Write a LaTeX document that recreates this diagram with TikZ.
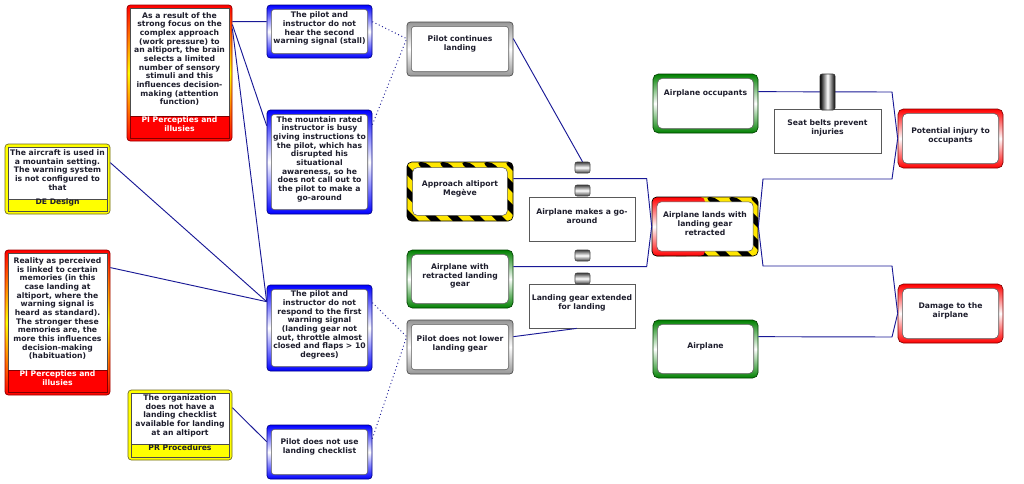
\documentclass[tikz,border=0pt]{standalone}
\usepackage{fontspec}
\setmainfont{DejaVu Sans}
\usetikzlibrary{fit,calc}
\definecolor{navy}{RGB}{25,25,150}
\definecolor{txtc}{RGB}{30,30,45}
\definecolor{evblue}{RGB}{0,0,255}
\definecolor{evgreen}{RGB}{0,128,0}
\definecolor{evred}{RGB}{255,0,0}
\definecolor{evgrey}{RGB}{150,150,150}
\definecolor{hzyel}{RGB}{255,230,0}
\definecolor{cyel}{RGB}{255,255,0}
\tikzset{
  txt/.style={font=\fontsize{5.75}{6.5}\selectfont\bfseries, text=txtc, align=center},
  whitecore/.style={path picture={\fill[white,draw=gray!70!black,line width=0.4pt]
     ([shift={(#1,-#1)}]path picture bounding box.north west) rectangle
     ([shift={(-#1,#1)}]path picture bounding box.south east);}},
  evbox/.style={inner sep=0pt, draw=#1!50!black, line width=0.5pt,
     top color=#1, bottom color=#1, middle color=white, whitecore=3.2pt, txt},
  bluebox/.style={evbox=evblue, rounded corners=2.5pt},
  greenbox/.style={evbox=evgreen, rounded corners=4pt},
  redbox/.style={evbox=evred, rounded corners=4pt},
  greybox/.style={evbox=evgrey, rounded corners=2.5pt},
  plainbox/.style={inner sep=0pt, draw=gray!70!black, fill=white, line width=0.6pt, txt},
  hazard/.style={inner sep=0pt, rounded corners=3.5pt, draw=black, line width=0.5pt, fill=hzyel,
     path picture={
       \foreach \k in {-14,...,14}{\fill[black] ([xshift={\k*16.5pt}]path picture bounding box.north) -- ++(7.5pt,0) -- ++(50pt,-50pt) -- ++(-7.5pt,0) -- cycle;}
       \fill[white,draw=gray!70!black,line width=0.4pt]
         ([shift={(4.2pt,-4.2pt)}]path picture bounding box.north west) rectangle
         ([shift={(-4.2pt,4.2pt)}]path picture bounding box.south east);
     }, txt},
  halfhazard/.style={inner sep=0pt, rounded corners=3.5pt, draw=black, line width=0.5pt, fill=hzyel,
     path picture={
       \foreach \k in {-14,...,14}{\fill[black] ([xshift={\k*16.5pt}]path picture bounding box.north) -- ++(7.5pt,0) -- ++(50pt,-50pt) -- ++(-7.5pt,0) -- cycle;}
       \shade[top color=evred, bottom color=evred, middle color=white]
         (path picture bounding box.north west) rectangle (path picture bounding box.south);
       \fill[white,draw=gray!70!black,line width=0.4pt]
         ([shift={(3.6pt,-3.6pt)}]path picture bounding box.north west) rectangle
         ([shift={(-3.6pt,3.6pt)}]path picture bounding box.south east);
     }, txt},
  pibox/.style={inner sep=0pt, rounded corners=2.5pt, draw=evred!60!black, line width=0.6pt,
     top color=evred, bottom color=evred, middle color=yellow},
  yelbox/.style={inner sep=0pt, rounded corners=2.5pt, draw=olive!70!black, line width=0.5pt, fill=cyel},
  corebox/.style={inner sep=0pt, fill=white, draw=gray!60!black, line width=0.4pt, txt},
  pilabel/.style={inner sep=0pt, fill=evred, draw=evred!50!black, line width=0.4pt, txt, text=white},
  yellabel/.style={inner sep=0pt, fill=cyel, draw=gray!60!black, line width=0.4pt, txt},
  barrier/.style={inner sep=0pt, rounded corners=1.5pt, draw=black!75, line width=0.4pt,
     top color=black!75, bottom color=black!75, middle color=white},
  tallbar/.style={inner sep=0pt, rounded corners=1.5pt, draw=black!80, line width=0.4pt,
     left color=black, right color=black, middle color=white},
  conn/.style={draw=navy, line width=0.7pt},
  dconn/.style={conn, dotted},
}
\begin{document}
\begin{tikzpicture}[x=0.75pt,y=-0.75pt]
\fill[white] (0,0) rectangle (1024,483);
\useasboundingbox (0,0) rectangle (1024,483);

% ---- left causes
\node[pibox, fit={(127,5)(232,141)}] (pi1) {};
\node[corebox, fit={(130,8)(229,116)}] (pi1t) {As a result of the\\strong focus on the\\complex approach\\(work pressure) to\\an altiport, the brain\\selects a limited\\number of sensory\\stimuli and this\\influences decision-\\making (attention\\function)};
\node[pilabel, fit={(130,116)(229,138)}] (pi1l) {PI Percepties and\\illusies};

\node[yelbox, fit={(5,144)(110,214)}] (de) {};
\node[corebox, fit={(8,147)(107,199)}] (det) {The aircraft is used in\\a mountain setting.\\The warning system\\is not configured to\\that};
\node[yellabel, fit={(8,199)(107,211)}] (del) {DE Design};

\node[pibox, fit={(5,250)(110,395)}] (pi2) {};
\node[corebox, fit={(8,253)(107,370)}] (pi2t) {Reality as perceived\\is linked to certain\\memories (in this\\case landing at\\altiport, where the\\warning signal is\\heard as standard).\\The stronger these\\memories are, the\\more this influences\\decision-making\\(habituation)};
\node[pilabel, fit={(8,370)(107,392)}] (pi2l) {PI Percepties and\\illusies};

\node[yelbox, fit={(128,390)(232,460)}] (pr) {};
\node[corebox, fit={(131,393)(229,444)}] (prt) {The organization\\does not have a\\landing checklist\\available for landing\\at an altiport};
\node[yellabel, fit={(131,444)(229,457)}] (prl) {PR Procedures};

% ---- blue boxes
\node[bluebox, fit={(267,5)(372,58)}] (b1) {The pilot and\\instructor do not\\hear the second\\warning signal (stall)};
\node[bluebox, fit={(267,110)(372,214)}] (b2) {The mountain rated\\instructor is busy\\giving instructions to\\the pilot, which has\\disrupted his\\situational\\awareness, so he\\does not call out to\\the pilot to make a\\go-around};
\node[bluebox, fit={(267,285)(372,371)}] (b3) {The pilot and\\instructor do not\\respond to the first\\warning signal\\(landing gear not\\out, throttle almost\\closed and flaps > 10\\degrees)};
\node[bluebox, fit={(267,425)(372,479)}] (b4) {};
\node[txt] (b4t) at (319.5,447) {Pilot does not use\\landing checklist};

% ---- middle column
\node[greybox, fit={(407,22)(513,76)}] (pcl) {};
\node[txt] (pclt) at (460,44) {Pilot continues\\landing};
\node[hazard, fit={(407,162)(513,221)}] (haz) {Approach altiport\\Megève};
\node[greenbox, fit={(407,250)(513,308)}] (gr) {Airplane with\\retracted landing\\gear};
\node[greybox, fit={(407,320)(513,374)}] (pnl) {Pilot does not lower\\landing gear};

\node[plainbox, fit={(529,197)(635,241)}] (ga) {Airplane makes a go-\\around};
\node[plainbox, fit={(529,284)(635,328)}] (leg) {Landing gear extended\\for landing};

% ---- right side
\node[halfhazard, fit={(652,197)(758,256)}] (lgr) {Airplane lands with\\landing gear\\retracted};
\node[greenbox, fit={(653,74)(758,133)}] (occ) {};
\node[txt] (occt) at (705.5,93) {Airplane occupants};
\node[plainbox, fit={(774,109)(881,153)}] (seat) {Seat belts prevent\\injuries};
\node[redbox, fit={(898,109)(1003,168)}] (inj) {Potential injury to\\occupants};
\node[redbox, fit={(898,284)(1003,343)}] (dmg) {Damage to the\\airplane};
\node[greenbox, fit={(653,320)(758,378)}] (apl) {Airplane};

% ---- connectors
\draw[conn] ($(pi1.north east)+(0,17)$) -- ($(b1.north west)+(0,17)$);
\draw[conn] ($(pi1.north east)+(0,20)$) -- ($(b2.north west)+(0,16)$);
\draw[conn] ($(pi1.north east)+(0,24)$) -- ($(b3.north west)+(0,17)$);
\draw[conn] ($(de.north east)+(0,19)$) -- ($(b3.north west)+(0,17)$);
\draw[conn] ($(pi2.north east)+(0,18)$) -- ($(b3.north west)+(0,17)$);
\draw[conn] ($(pr.north east)+(0,18)$) -- ($(b4.north west)+(0,17)$);

\draw[dconn] ($(b1.north east)+(0,17)$) -- ($(pcl.north west)+(0,17)$);
\draw[dconn] ($(b2.north east)+(0,15)$) -- ($(pcl.north west)+(0,17)$);
\draw[dconn] ($(b3.north east)+(0,18)$) -- ($(pnl.north west)+(0,17)$);
\draw[dconn] ($(b4.north east)+(0,14)$) -- ($(pnl.north west)+(0,17)$);

\coordinate (hzR) at ($(haz.north east)+(0,17)$);
\coordinate (grR) at ($(gr.north east)+(0,17)$);
\coordinate (lgL) at ($(lgr.west)+(-5,0)$);
\draw[conn] (hzR) -- (lgL |- hzR) -- (lgr.west);
\draw[conn] (grR) -- (lgL |- grR) -- (lgr.west);

\node[barrier, fit={(575,162)(590,173)}] (bar1) {};
\node[barrier, fit={(575,185)(590,196)}] (bar2) {};
\node[barrier, fit={(575,250)(590,261)}] (bar3) {};
\node[barrier, fit={(575,273)(590,284)}] (bar4) {};

\draw[conn] ($(pcl.north east)+(0,17)$) -- (bar1.north);
\draw[conn] ($(pnl.north east)+(0,17)$) -- ([xshift=-4pt]leg.south);

\coordinate (u1) at (763,179);
\coordinate (u2) at (892,179);
\coordinate (d1) at (763,266);
\coordinate (d2) at (892,266);
\coordinate (o2) at (892,92);
\coordinate (a2) at (892,337);
\draw[conn] (lgr.east) -- (u1) -- (u2) -- (inj.west);
\draw[conn] ($(occ.north east)+(0,18)$) -- (o2) -- (inj.west);
\draw[conn] (lgr.east) -- (d1) -- (d2) -- (dmg.west);
\draw[conn] ($(apl.north east)+(0,17)$) -- (a2) -- (dmg.west);

\node[tallbar, fit={(820,74)(835,110)}] (bar5) {};
\end{tikzpicture}
\end{document}
